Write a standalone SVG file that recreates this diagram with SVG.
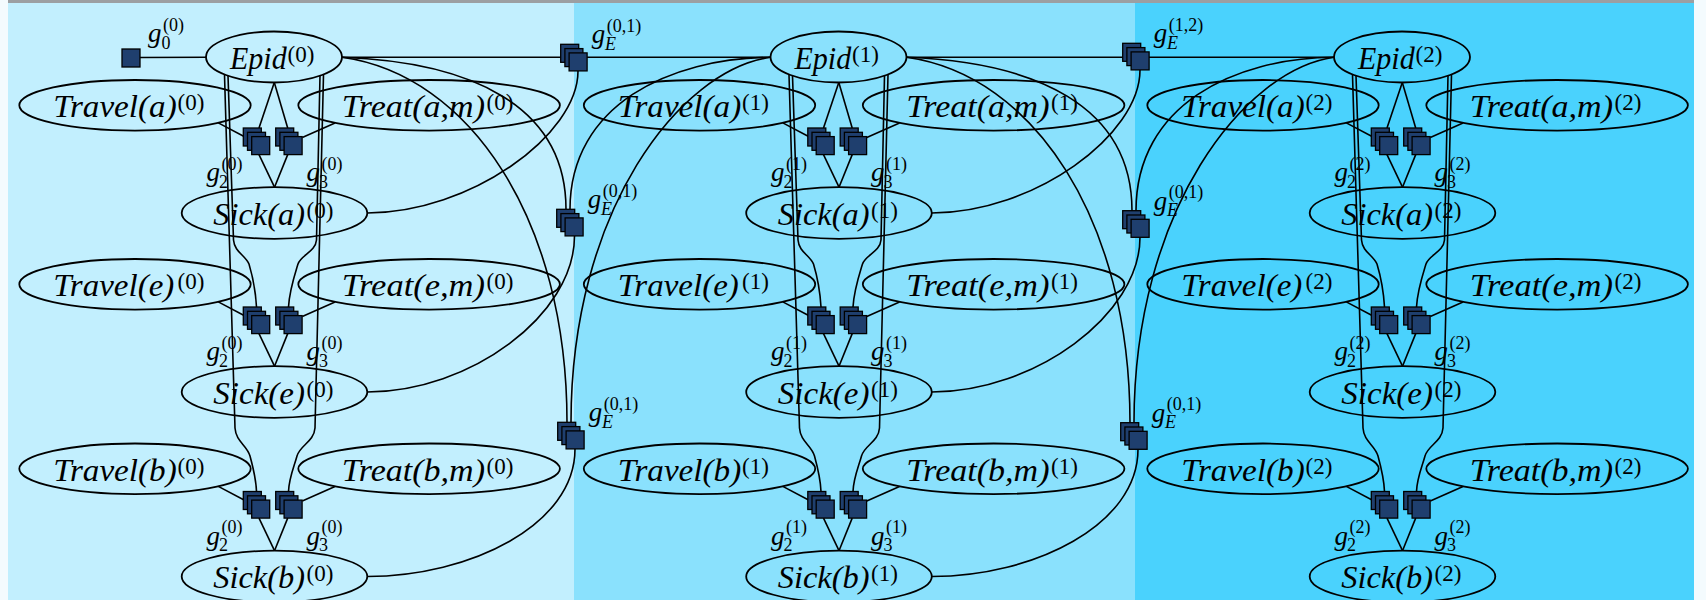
<svg xmlns="http://www.w3.org/2000/svg" xmlns:xlink="http://www.w3.org/1999/xlink" width="1706" height="600" viewBox="0 0 1706 600">
<style>
.node ellipse{fill:none;stroke:#000;stroke-width:1.8}
.t{font-family:"Liberation Serif",serif;font-style:italic;font-size:31px;fill:#000}
.s{font-family:"Liberation Serif",serif;font-size:23px;fill:#000}
.g{font-family:"Liberation Serif",serif;font-style:italic;font-size:27px;fill:#000}
.gs{font-family:"Liberation Serif",serif;font-size:18px;fill:#000}
.gi{font-family:"Liberation Serif",serif;font-style:italic;font-size:18px;fill:#000}
</style>
<defs>
  <!-- stacked factor square (three plates) -->
  <g id="stack" fill="#1f3f6e" stroke="#000" stroke-width="1.3">
    <rect x="0" y="0" width="18" height="18"/>
    <rect x="4.2" y="4.3" width="18" height="18"/>
    <rect x="8.4" y="8.6" width="18" height="18"/>
  </g>
  <!-- edges inside one time slice, in slice-local coordinates -->
  <g id="sliceEdges" fill="none" stroke="#000" stroke-width="1.6">
    <!-- level a -->
    <path d="M218.3,122.9 L246,137.5"/>
    <path d="M335,122.9 L302.3,137.5"/>
    <path d="M259,154.6 L274.5,187.2"/>
    <path d="M287.7,154.6 L274.5,187.2"/>
    <path d="M274.3,82.5 L259,128"/>
    <path d="M274.3,82.5 L287.7,128"/>
    <!-- level e -->
    <path d="M218.3,301.9 L246,316.5"/>
    <path d="M335,301.9 L302.3,316.5"/>
    <path d="M259,333.6 L274.5,366.2"/>
    <path d="M287.7,333.6 L274.5,366.2"/>
    <path d="M228,75.6 L233.5,240 C234.5,252 245,255 249,264 C252,274 255.5,290 256.5,307"/>
    <path d="M320,75.6 L316.5,240 C315.5,252 301,255 298,264 C295,274 289.5,290 288.5,307"/>
    <!-- level b -->
    <path d="M224.5,74.8 L235,428 C236,442 247,445 250,456 C253,467 256,478 256.5,491.5"/>
    <path d="M323.5,74.8 L315,428 C314,442 300,445 297,456 C294,467 289,478 288.5,491.5"/>
    <path d="M218.3,486.4 L246,501"/>
    <path d="M335,486.4 L302.3,501"/>
    <path d="M259,518.1 L274.5,550.7"/>
    <path d="M287.7,518.1 L274.5,550.7"/>
  </g>
</defs>

<!-- backdrop -->
<rect x="0" y="0" width="1706" height="600" fill="#f4fbfe"/>
<rect x="8" y="3" width="566" height="597" fill="#c2effe"/>
<rect x="574" y="3" width="561" height="597" fill="#8ae1fd"/>
<rect x="1135" y="3" width="559" height="597" fill="#4ad2fd"/>
<rect x="8" y="0" width="1686" height="3" fill="#9c9fa2"/>

<!-- connectors -->
<g id="connectors" fill="none" stroke="#000" stroke-width="1.6">
  <use xlink:href="#sliceEdges"/>
  <use xlink:href="#sliceEdges" x="564.5"/>
  <use xlink:href="#sliceEdges" x="1128"/>
  <!-- prior and chain along Epid -->
  <path d="M140,57.5 L206,57.3"/>
  <path d="M342,57.3 L560.7,57.3"/>
  <path d="M587,57.3 L770.5,57.3"/>
  <path d="M906.5,57.3 L1122.7,57.3"/>
  <path d="M1149,57.3 L1334,57.3"/>
  <!-- transition 0 -> 1 -->
  <path d="M342,57.3 C470,62 566,105 566,209.3"/>
  <path d="M342,57.3 C470,75 567,220 567,422.3"/>
  <path d="M770.5,57.3 C670,58 570,105 570,209.3"/>
  <path d="M770.5,57.3 C680,70 571,210 571,422.3"/>
  <path d="M578,71 C578,135 470,213 367.3,213"/>
  <path d="M574.5,236 C574.5,315 470,392 367.3,392"/>
  <path d="M575,449 C575,525 470,576.5 367.3,576.5"/>
  <!-- transition 1 -> 2 -->
  <path d="M906.5,57.3 C1034,62 1132,105 1132,210.7"/>
  <path d="M906.5,57.3 C1034,75 1130,220 1130,422.7"/>
  <path d="M1334,57.3 C1234,58 1136,105 1136,210.7"/>
  <path d="M1334,57.3 C1244,70 1134,210 1134,422.7"/>
  <path d="M1140,70 C1140,135 1034,213 931.8,213"/>
  <path d="M1140,237.3 C1140,315 1034,392 931.8,392"/>
  <path d="M1138,449.3 C1138,525 1034,576.5 931.8,576.5"/>
</g>

<!-- variable nodes, slice 0 -->
<g class="node">
  <g id="epid-0"><ellipse cx="274" cy="57" rx="68" ry="25.5"/><text class="t" x="230" y="68.8" textLength="56.7" lengthAdjust="spacingAndGlyphs">Epid</text><text class="s" x="287.5" y="61.7">(0)</text></g>
  <g id="travel-a-0"><ellipse cx="135" cy="105.3" rx="115.7" ry="25.3"/><text class="t" x="53.3" y="117.1" textLength="123.4" lengthAdjust="spacingAndGlyphs">Travel(a)</text><text class="s" x="177.5" y="110">(0)</text></g>
  <g id="treat-a-0"><ellipse cx="429.1" cy="105.3" rx="130.8" ry="25.3"/><text class="t" x="341.7" y="117.1" textLength="143.3" lengthAdjust="spacingAndGlyphs">Treat(a,m)</text><text class="s" x="486.6" y="110">(0)</text></g>
  <g id="sick-a-0"><ellipse cx="274.5" cy="213" rx="92.8" ry="25.8"/><text class="t" x="213.3" y="224.8" textLength="91.7" lengthAdjust="spacingAndGlyphs">Sick(a)</text><text class="s" x="306.5" y="217.7">(0)</text></g>
  <g id="travel-e-0"><ellipse cx="135" cy="284.3" rx="115.7" ry="25.3"/><text class="t" x="53.3" y="296.1" textLength="121" lengthAdjust="spacingAndGlyphs">Travel(e)</text><text class="s" x="177.5" y="289">(0)</text></g>
  <g id="treat-e-0"><ellipse cx="429.1" cy="284.3" rx="130.8" ry="25.3"/><text class="t" x="341.7" y="296.1" textLength="143.3" lengthAdjust="spacingAndGlyphs">Treat(e,m)</text><text class="s" x="486.6" y="289">(0)</text></g>
  <g id="sick-e-0"><ellipse cx="274.5" cy="392" rx="92.8" ry="25.8"/><text class="t" x="213.3" y="403.8" textLength="91.7" lengthAdjust="spacingAndGlyphs">Sick(e)</text><text class="s" x="306.5" y="396.7">(0)</text></g>
  <g id="travel-b-0"><ellipse cx="135" cy="468.8" rx="115.7" ry="25.3"/><text class="t" x="53.3" y="480.6" textLength="123.4" lengthAdjust="spacingAndGlyphs">Travel(b)</text><text class="s" x="177.5" y="473.5">(0)</text></g>
  <g id="treat-b-0"><ellipse cx="429.1" cy="468.8" rx="130.8" ry="25.3"/><text class="t" x="341.7" y="480.6" textLength="143.3" lengthAdjust="spacingAndGlyphs">Treat(b,m)</text><text class="s" x="486.6" y="473.5">(0)</text></g>
  <g id="sick-b-0"><ellipse cx="274.5" cy="576.5" rx="92.8" ry="25.8"/><text class="t" x="213.3" y="588.3" textLength="91.7" lengthAdjust="spacingAndGlyphs">Sick(b)</text><text class="s" x="306.5" y="581.2">(0)</text></g>
</g>

<!-- variable nodes, slice 1 -->
<g class="node" transform="translate(564.5,0)">
  <g id="epid-1"><ellipse cx="274" cy="57" rx="68" ry="25.5"/><text class="t" x="230" y="68.8" textLength="56.7" lengthAdjust="spacingAndGlyphs">Epid</text><text class="s" x="287.5" y="61.7">(1)</text></g>
  <g id="travel-a-1"><ellipse cx="135" cy="105.3" rx="115.7" ry="25.3"/><text class="t" x="53.3" y="117.1" textLength="123.4" lengthAdjust="spacingAndGlyphs">Travel(a)</text><text class="s" x="177.5" y="110">(1)</text></g>
  <g id="treat-a-1"><ellipse cx="429.1" cy="105.3" rx="130.8" ry="25.3"/><text class="t" x="341.7" y="117.1" textLength="143.3" lengthAdjust="spacingAndGlyphs">Treat(a,m)</text><text class="s" x="486.6" y="110">(1)</text></g>
  <g id="sick-a-1"><ellipse cx="274.5" cy="213" rx="92.8" ry="25.8"/><text class="t" x="213.3" y="224.8" textLength="91.7" lengthAdjust="spacingAndGlyphs">Sick(a)</text><text class="s" x="306.5" y="217.7">(1)</text></g>
  <g id="travel-e-1"><ellipse cx="135" cy="284.3" rx="115.7" ry="25.3"/><text class="t" x="53.3" y="296.1" textLength="121" lengthAdjust="spacingAndGlyphs">Travel(e)</text><text class="s" x="177.5" y="289">(1)</text></g>
  <g id="treat-e-1"><ellipse cx="429.1" cy="284.3" rx="130.8" ry="25.3"/><text class="t" x="341.7" y="296.1" textLength="143.3" lengthAdjust="spacingAndGlyphs">Treat(e,m)</text><text class="s" x="486.6" y="289">(1)</text></g>
  <g id="sick-e-1"><ellipse cx="274.5" cy="392" rx="92.8" ry="25.8"/><text class="t" x="213.3" y="403.8" textLength="91.7" lengthAdjust="spacingAndGlyphs">Sick(e)</text><text class="s" x="306.5" y="396.7">(1)</text></g>
  <g id="travel-b-1"><ellipse cx="135" cy="468.8" rx="115.7" ry="25.3"/><text class="t" x="53.3" y="480.6" textLength="123.4" lengthAdjust="spacingAndGlyphs">Travel(b)</text><text class="s" x="177.5" y="473.5">(1)</text></g>
  <g id="treat-b-1"><ellipse cx="429.1" cy="468.8" rx="130.8" ry="25.3"/><text class="t" x="341.7" y="480.6" textLength="143.3" lengthAdjust="spacingAndGlyphs">Treat(b,m)</text><text class="s" x="486.6" y="473.5">(1)</text></g>
  <g id="sick-b-1"><ellipse cx="274.5" cy="576.5" rx="92.8" ry="25.8"/><text class="t" x="213.3" y="588.3" textLength="91.7" lengthAdjust="spacingAndGlyphs">Sick(b)</text><text class="s" x="306.5" y="581.2">(1)</text></g>
</g>

<!-- variable nodes, slice 2 -->
<g class="node" transform="translate(1128,0)">
  <g id="epid-2"><ellipse cx="274" cy="57" rx="68" ry="25.5"/><text class="t" x="230" y="68.8" textLength="56.7" lengthAdjust="spacingAndGlyphs">Epid</text><text class="s" x="287.5" y="61.7">(2)</text></g>
  <g id="travel-a-2"><ellipse cx="135" cy="105.3" rx="115.7" ry="25.3"/><text class="t" x="53.3" y="117.1" textLength="123.4" lengthAdjust="spacingAndGlyphs">Travel(a)</text><text class="s" x="177.5" y="110">(2)</text></g>
  <g id="treat-a-2"><ellipse cx="429.1" cy="105.3" rx="130.8" ry="25.3"/><text class="t" x="341.7" y="117.1" textLength="143.3" lengthAdjust="spacingAndGlyphs">Treat(a,m)</text><text class="s" x="486.6" y="110">(2)</text></g>
  <g id="sick-a-2"><ellipse cx="274.5" cy="213" rx="92.8" ry="25.8"/><text class="t" x="213.3" y="224.8" textLength="91.7" lengthAdjust="spacingAndGlyphs">Sick(a)</text><text class="s" x="306.5" y="217.7">(2)</text></g>
  <g id="travel-e-2"><ellipse cx="135" cy="284.3" rx="115.7" ry="25.3"/><text class="t" x="53.3" y="296.1" textLength="121" lengthAdjust="spacingAndGlyphs">Travel(e)</text><text class="s" x="177.5" y="289">(2)</text></g>
  <g id="treat-e-2"><ellipse cx="429.1" cy="284.3" rx="130.8" ry="25.3"/><text class="t" x="341.7" y="296.1" textLength="143.3" lengthAdjust="spacingAndGlyphs">Treat(e,m)</text><text class="s" x="486.6" y="289">(2)</text></g>
  <g id="sick-e-2"><ellipse cx="274.5" cy="392" rx="92.8" ry="25.8"/><text class="t" x="213.3" y="403.8" textLength="91.7" lengthAdjust="spacingAndGlyphs">Sick(e)</text><text class="s" x="306.5" y="396.7">(2)</text></g>
  <g id="travel-b-2"><ellipse cx="135" cy="468.8" rx="115.7" ry="25.3"/><text class="t" x="53.3" y="480.6" textLength="123.4" lengthAdjust="spacingAndGlyphs">Travel(b)</text><text class="s" x="177.5" y="473.5">(2)</text></g>
  <g id="treat-b-2"><ellipse cx="429.1" cy="468.8" rx="130.8" ry="25.3"/><text class="t" x="341.7" y="480.6" textLength="143.3" lengthAdjust="spacingAndGlyphs">Treat(b,m)</text><text class="s" x="486.6" y="473.5">(2)</text></g>
  <g id="sick-b-2"><ellipse cx="274.5" cy="576.5" rx="92.8" ry="25.8"/><text class="t" x="213.3" y="588.3" textLength="91.7" lengthAdjust="spacingAndGlyphs">Sick(b)</text><text class="s" x="306.5" y="581.2">(2)</text></g>
</g>

<!-- factor nodes: prior -->
<g id="g0-0"><rect x="122" y="49" width="18" height="18" fill="#1f3f6e" stroke="#000" stroke-width="1.3"/><text class="g" x="148" y="42">g</text><text class="gs" x="161.5" y="48.5">0</text><text class="gs" x="163" y="30.5">(0)</text></g>

<!-- factor nodes: in-slice g2/g3 for each slice -->
<g id="slice0-factors">
  <g id="g2-a-0"><use xlink:href="#stack" x="243.3" y="128"/><text class="g" x="206.5" y="181">g</text><text class="gs" x="219" y="187.5">2</text><text class="gs" x="221.5" y="169.5">(0)</text></g>
  <g id="g3-a-0"><use xlink:href="#stack" x="275.7" y="128"/><text class="g" x="306.5" y="181">g</text><text class="gs" x="319" y="187.5">3</text><text class="gs" x="321.5" y="169.5">(0)</text></g>
  <g id="g2-e-0"><use xlink:href="#stack" x="243.3" y="307"/><text class="g" x="206.5" y="360">g</text><text class="gs" x="219" y="366.5">2</text><text class="gs" x="221.5" y="348.5">(0)</text></g>
  <g id="g3-e-0"><use xlink:href="#stack" x="275.7" y="307"/><text class="g" x="306.5" y="360">g</text><text class="gs" x="319" y="366.5">3</text><text class="gs" x="321.5" y="348.5">(0)</text></g>
  <g id="g2-b-0"><use xlink:href="#stack" x="243.3" y="491.5"/><text class="g" x="206.5" y="544.5">g</text><text class="gs" x="219" y="551">2</text><text class="gs" x="221.5" y="533">(0)</text></g>
  <g id="g3-b-0"><use xlink:href="#stack" x="275.7" y="491.5"/><text class="g" x="306.5" y="544.5">g</text><text class="gs" x="319" y="551">3</text><text class="gs" x="321.5" y="533">(0)</text></g>
</g>
<g id="slice1-factors" transform="translate(564.5,0)">
  <g id="g2-a-1"><use xlink:href="#stack" x="243.3" y="128"/><text class="g" x="206.5" y="181">g</text><text class="gs" x="219" y="187.5">2</text><text class="gs" x="221.5" y="169.5">(1)</text></g>
  <g id="g3-a-1"><use xlink:href="#stack" x="275.7" y="128"/><text class="g" x="306.5" y="181">g</text><text class="gs" x="319" y="187.5">3</text><text class="gs" x="321.5" y="169.5">(1)</text></g>
  <g id="g2-e-1"><use xlink:href="#stack" x="243.3" y="307"/><text class="g" x="206.5" y="360">g</text><text class="gs" x="219" y="366.5">2</text><text class="gs" x="221.5" y="348.5">(1)</text></g>
  <g id="g3-e-1"><use xlink:href="#stack" x="275.7" y="307"/><text class="g" x="306.5" y="360">g</text><text class="gs" x="319" y="366.5">3</text><text class="gs" x="321.5" y="348.5">(1)</text></g>
  <g id="g2-b-1"><use xlink:href="#stack" x="243.3" y="491.5"/><text class="g" x="206.5" y="544.5">g</text><text class="gs" x="219" y="551">2</text><text class="gs" x="221.5" y="533">(1)</text></g>
  <g id="g3-b-1"><use xlink:href="#stack" x="275.7" y="491.5"/><text class="g" x="306.5" y="544.5">g</text><text class="gs" x="319" y="551">3</text><text class="gs" x="321.5" y="533">(1)</text></g>
</g>
<g id="slice2-factors" transform="translate(1128,0)">
  <g id="g2-a-2"><use xlink:href="#stack" x="243.3" y="128"/><text class="g" x="206.5" y="181">g</text><text class="gs" x="219" y="187.5">2</text><text class="gs" x="221.5" y="169.5">(2)</text></g>
  <g id="g3-a-2"><use xlink:href="#stack" x="275.7" y="128"/><text class="g" x="306.5" y="181">g</text><text class="gs" x="319" y="187.5">3</text><text class="gs" x="321.5" y="169.5">(2)</text></g>
  <g id="g2-e-2"><use xlink:href="#stack" x="243.3" y="307"/><text class="g" x="206.5" y="360">g</text><text class="gs" x="219" y="366.5">2</text><text class="gs" x="221.5" y="348.5">(2)</text></g>
  <g id="g3-e-2"><use xlink:href="#stack" x="275.7" y="307"/><text class="g" x="306.5" y="360">g</text><text class="gs" x="319" y="366.5">3</text><text class="gs" x="321.5" y="348.5">(2)</text></g>
  <g id="g2-b-2"><use xlink:href="#stack" x="243.3" y="491.5"/><text class="g" x="206.5" y="544.5">g</text><text class="gs" x="219" y="551">2</text><text class="gs" x="221.5" y="533">(2)</text></g>
  <g id="g3-b-2"><use xlink:href="#stack" x="275.7" y="491.5"/><text class="g" x="306.5" y="544.5">g</text><text class="gs" x="319" y="551">3</text><text class="gs" x="321.5" y="533">(2)</text></g>
</g>

<!-- factor nodes: transitions -->
<g id="gE-a-01"><use xlink:href="#stack" x="560.7" y="44.3"/><text class="g" x="591.7" y="43.3">g</text><text class="gi" x="605" y="49.8">E</text><text class="gs" x="606.7" y="31.8">(0,1)</text></g>
<g id="gE-e-01"><use xlink:href="#stack" x="556.7" y="209.3"/><text class="g" x="587.7" y="208.3">g</text><text class="gi" x="601" y="214.8">E</text><text class="gs" x="602.7" y="196.8">(0,1)</text></g>
<g id="gE-b-01"><use xlink:href="#stack" x="557.7" y="422.3"/><text class="g" x="588.7" y="421.3">g</text><text class="gi" x="602" y="427.8">E</text><text class="gs" x="603.7" y="409.8">(0,1)</text></g>
<g id="gE-a-12"><use xlink:href="#stack" x="1122.7" y="43.3"/><text class="g" x="1153.7" y="42.3">g</text><text class="gi" x="1167" y="48.8">E</text><text class="gs" x="1168.7" y="30.8">(1,2)</text></g>
<g id="gE-e-12"><use xlink:href="#stack" x="1122.7" y="210.7"/><text class="g" x="1153.7" y="209.7">g</text><text class="gi" x="1167" y="216.2">E</text><text class="gs" x="1168.7" y="198.2">(0,1)</text></g>
<g id="gE-b-12"><use xlink:href="#stack" x="1120.7" y="422.7"/><text class="g" x="1151.7" y="421.7">g</text><text class="gi" x="1165" y="428.2">E</text><text class="gs" x="1166.7" y="410.2">(0,1)</text></g>
</svg>
